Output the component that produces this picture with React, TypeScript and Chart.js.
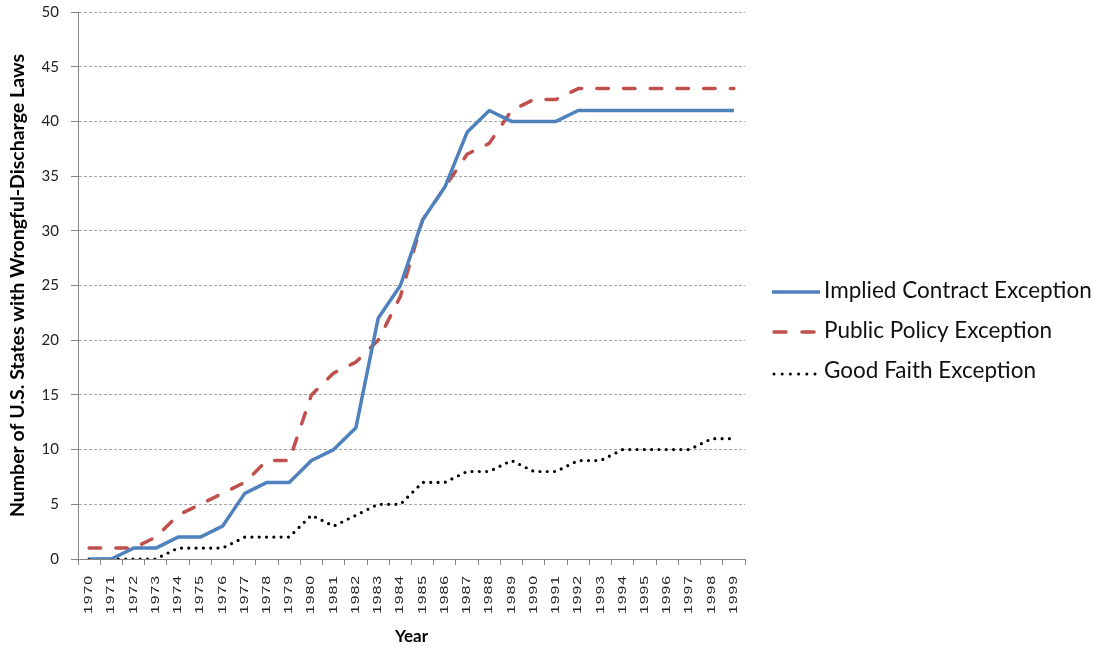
import React, { useEffect, useRef } from "react";
import { Chart, registerables } from "chart.js";

Chart.register(...registerables);

const years = [
  "1970", "1971", "1972", "1973", "1974", "1975", "1976", "1977", "1978", "1979",
  "1980", "1981", "1982", "1983", "1984", "1985", "1986", "1987", "1988", "1989",
  "1990", "1991", "1992", "1993", "1994", "1995", "1996", "1997", "1998", "1999",
];

const impliedContract = [
  0, 0, 1, 1, 2, 2, 3, 6, 7, 7,
  9, 10, 12, 22, 25, 31, 34, 39, 41, 40,
  40, 40, 41, 41, 41, 41, 41, 41, 41, 41,
];

const publicPolicy = [
  1, 1, 1, 2, 4, 5, 6, 7, 9, 9,
  15, 17, 18, 20, 24, 31, 34, 37, 38, 41,
  42, 42, 43, 43, 43, 43, 43, 43, 43, 43,
];

const goodFaith = [
  0, 0, 0, 0, 1, 1, 1, 2, 2, 2,
  4, 3, 4, 5, 5, 7, 7, 8, 8, 9,
  8, 8, 9, 9, 10, 10, 10, 10, 11, 11,
];

const seriesNames = [
  "Implied Contract Exception",
  "Public Policy Exception",
  "Good Faith Exception",
];

const BLUE = "#4F81BD";
const RED = "#C0504D";
const BLACK = "#000000";

const legendPlugin = {
  id: "customLegend",
  afterDraw(chart: any) {
    const ctx = chart.ctx as CanvasRenderingContext2D;
    const x0 = 772;
    const x1 = 820;
    const tx = 824;
    const rows = [291, 331, 371];
    ctx.save();
    ctx.font = "22.5px Lato";
    ctx.textBaseline = "middle";
    ctx.textAlign = "left";
    ctx.fillStyle = "#111";
    // row 1: solid blue
    ctx.strokeStyle = BLUE;
    ctx.lineWidth = 3.5;
    ctx.lineCap = "butt";
    ctx.beginPath();
    ctx.moveTo(x0, rows[0] + 1);
    ctx.lineTo(x1, rows[0] + 1);
    ctx.stroke();
    ctx.fillText(seriesNames[0], tx, rows[0]);
    // row 2: dashed red
    ctx.strokeStyle = RED;
    ctx.lineCap = "round";
    ctx.beginPath();
    ctx.moveTo(x0 + 2, rows[1] + 1);
    ctx.lineTo(x0 + 14, rows[1] + 1);
    ctx.moveTo(x0 + 30, rows[1] + 1);
    ctx.lineTo(x0 + 42, rows[1] + 1);
    ctx.stroke();
    ctx.fillText(seriesNames[1], tx, rows[1]);
    // row 3: dotted black
    ctx.fillStyle = BLACK;
    for (let i = 0; i < 6; i++) {
      ctx.beginPath();
      ctx.arc(x0 + 2 + i * 8.2, rows[2] + 3, 1.5, 0, Math.PI * 2);
      ctx.fill();
    }
    ctx.fillStyle = "#111";
    ctx.fillText(seriesNames[2], tx, rows[2]);
    ctx.restore();
  },
};

export default function App() {
  const ref = useRef<HTMLCanvasElement>(null);

  useEffect(() => {
    document.body.style.margin = "0";
    const canvas = ref.current;
    if (!canvas) return;

    const chart = new Chart(canvas, {
      type: "line",
      data: {
        labels: years,
        datasets: [
          {
            label: seriesNames[0],
            data: impliedContract,
            borderColor: BLUE,
            backgroundColor: BLUE,
            borderWidth: 3.5,
            borderJoinStyle: "round",
            pointRadius: 0,
            tension: 0,
          },
          {
            label: seriesNames[1],
            data: publicPolicy,
            borderColor: RED,
            backgroundColor: RED,
            borderWidth: 3.5,
            borderDash: [11.5, 15.2],
            borderCapStyle: "round",
            borderJoinStyle: "round",
            pointRadius: 0,
            tension: 0,
          },
          {
            label: seriesNames[2],
            data: goodFaith,
            borderColor: BLACK,
            backgroundColor: BLACK,
            borderWidth: 3.2,
            borderDash: [0, 7.3],
            borderCapStyle: "round",
            borderJoinStyle: "round",
            pointRadius: 0,
            tension: 0,
          },
        ],
      },
      options: {
        responsive: false,
        animation: false,
        devicePixelRatio: 1,
        layout: { padding: { top: 12, right: 354, left: 0, bottom: 0 } },
        plugins: {
          legend: { display: false },
          tooltip: { enabled: false },
        },
        scales: {
          x: {
            type: "category",
            offset: true,
            grid: {
              offset: true,
              drawOnChartArea: false,
              drawTicks: true,
              tickLength: 6,
              color: "#868686",
              tickColor: "#868686",
            },
            border: { display: true, color: "#868686", width: 1 },
            ticks: {
              autoSkip: false,
              maxRotation: 90,
              minRotation: 90,
              padding: 5,
              color: "#222",
              font: { family: "Liberation Sans", size: 11 },
            },
            title: {
              display: true,
              text: "Year",
              color: "#000",
              font: { family: "Lato", size: 17, weight: "bold" },
              padding: { top: 0, bottom: 2 },
            },
            afterFit: (scale: any) => {
              scale.height = 90;
              scale.paddingLeft = 0;
              scale.paddingRight = 0;
              if (!scale.__wrapped) {
                const orig = Object.getPrototypeOf(scale).drawLabels;
                scale.drawLabels = function (ca: any) {
                  const c = this.ctx as CanvasRenderingContext2D;
                  c.save();
                  const y0 = this.top;
                  c.translate(0, y0);
                  c.scale(1, 1.45);
                  c.translate(0, -y0);
                  (c as any).letterSpacing = "0.6px";
                  orig.call(this, ca);
                  c.restore();
                };
                scale.__wrapped = true;
              }
            },
          },
          y: {
            min: 0,
            max: 50,
            ticks: {
              stepSize: 5,
              padding: 12,
              color: "#222",
              font: { family: "Lato", size: 15 },
            },
            grid: {
              color: "#a6a6a6",
              tickColor: "#868686",
              tickLength: 7,
              tickBorderDash: [],
              lineWidth: 1,
            },
            border: { display: true, color: "#868686", width: 1, dash: [3, 2] },
            title: {
              display: true,
              text: "Number of U.S. States with Wrongful-Discharge Laws",
              color: "#000",
              font: { family: "Lato", size: 19.5, weight: "bold" },
              padding: { top: 6, bottom: 0 },
            },
            afterFit: (scale: any) => {
              scale.width = 78;
              scale.paddingTop = 0;
              scale.paddingBottom = 0;
            },
          },
        },
      },
      plugins: [legendPlugin],
    });

    return () => {
      chart.destroy();
    };
  }, []);

  return (
    <div style={{ width: 1099, height: 649, background: "#fff" }}>
      <canvas ref={ref} width={1099} height={649} style={{ display: "block" }} />
    </div>
  );
}
